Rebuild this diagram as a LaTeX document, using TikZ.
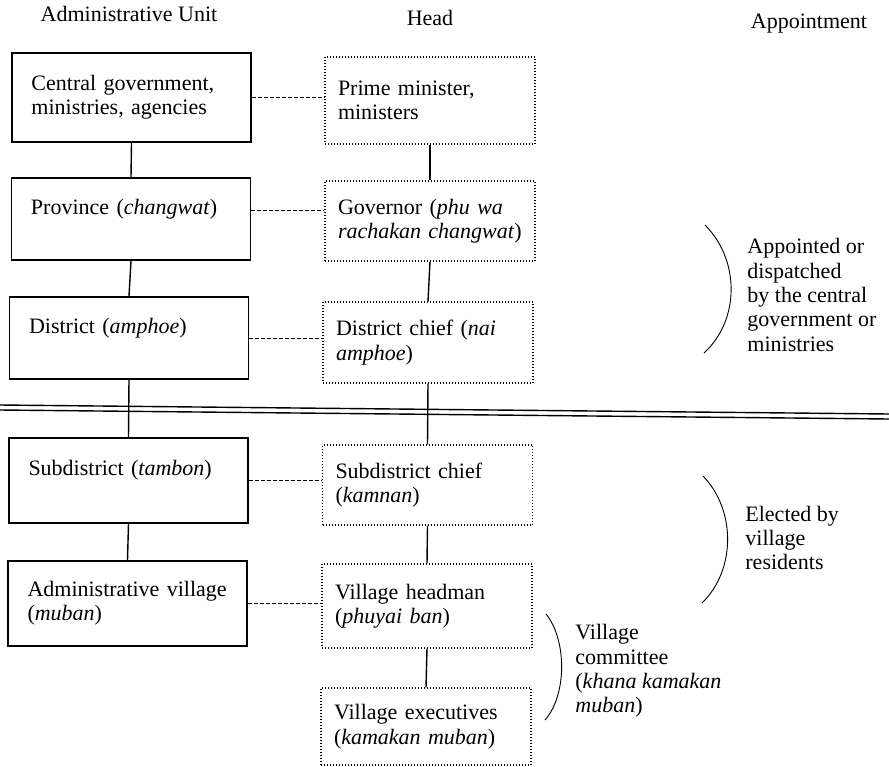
\documentclass[tikz,border=0pt]{standalone}
\usepackage{fontspec}
\setmainfont{Liberation Serif}
\usetikzlibrary{calc}
\hyphenpenalty=10000

\begin{document}
\begin{tikzpicture}[x=0.5pt, y=-0.5pt,
		font=\fontsize{11}{12.2}\selectfont,
		unitbox/.style={draw, line width=0.8pt, minimum width=119.5pt, minimum height=#1,
			inner xsep=9.75pt, text width=100pt, align=left},
		unitbox/.default=42pt,
		headbox/.style={draw, line width=0.6pt, dash pattern=on 0.5pt off 1pt, minimum width=105pt,
			minimum height=#1, inner xsep=6.5pt, text width=92pt, align=left},
		headbox/.default=40pt,
		link/.style={line width=0.7pt},
		tie/.style={line width=0.5pt, dash pattern=on 2pt off 1pt},
		brace/.style={line width=0.45pt},
		note/.style={anchor=west, align=left, inner sep=0pt}]
		%%%%% START %%%%%
		
		\useasboundingbox (0,0) rectangle (889,766);
		
		\node[anchor=base] (hdunit) at (129,21) {Administrative Unit};
		\node[anchor=base] (hdhead) at (430,25) {Head};
		\node[anchor=base] (hdappt) at (809,28) {Appointment};
		
		% administrative units
		\node[unitbox=44.5pt] (b1) at (131.5,97.5) {Central government,\\ministries, agencies};
		\node[unitbox=41pt] (b2) at (131,219) {Province (\textit{changwat})\\\mbox{}};
		\node[unitbox=41pt] (b3) at (129,338) {District (\textit{amphoe})\\\mbox{}};
		\node[unitbox=42.5pt] (b4) at (128.5,480.5) {Subdistrict (\textit{tambon})\\\mbox{}};
		\node[unitbox=42.5pt] (b5) at (127.5,603.5) {Administrative village\\(\textit{muban})};
		
		% heads
		\node[headbox=43.5pt] (h1) at (430,100.5) {Prime minister,\\ministers};
		\node[headbox=40pt] (h2) at (430,221) {Governor (\textit{phu wa}\\\textit{rachakan changwat})};
		\node[headbox=40.5pt] (h3) at (428,342.5) {District chief (\textit{nai}\\\textit{amphoe})};
		\node[headbox=40pt] (h4) at (427.5,485) {Subdistrict chief\\(\textit{kamnan})};
		\node[headbox=42pt] (h5) at (427,606) {Village headman\\(\textit{phuyai ban})};
		\node[headbox=38.5pt] (h6) at (426,726.5) {Village executives\\(\textit{kamakan muban})};
		
		\draw[link] (b1.south) -- (b2.north);
		\draw[link] (b2.south) -- (b3.north);
		\draw[link] (b3.south) -- (b4.north);
		\draw[link] (b4.south) -- (b5.north);
		
		\draw[link] (h1.south) -- (h2.north);
		\draw[link] (h2.south) -- (h3.north);
		\draw[link] (h3.south) -- (h4.north);
		\draw[link] (h4.south) -- (h5.north);
		\draw[link] (h5.south) -- (h6.north);
		
		\draw[tie] (b1.east) -- (b1.east -| h1.west);
		\draw[tie] ([yshift=4.5pt]b2.east) -- ([yshift=4.5pt]b2.east -| h2.west);
		\draw[tie] (b3.east) -- (b3.east -| h3.west);
		\draw[tie] (b4.east) -- (b4.east -| h4.west);
		\draw[tie] (b5.east) -- (b5.east -| h5.west);
		
		% appointed / elected split
		\draw[link] (0,405) -- (889,414);
		\draw[link] (0,410) -- (889,419);
		
		\draw[brace] (705,225) .. controls (740,260) and (740,320) .. (704,353);
		\draw[brace] (703,476) .. controls (736,510) and (736,570) .. (702,603);
		\draw[brace] (546,614) .. controls (567,640) and (567,695) .. (545,720);
		
		\node[note] (appointed) at (747,295) {Appointed or\\dispatched\\by the central\\government or\\ministries};
		\node[note] (elected) at (745,538) {Elected by\\village\\residents};
		\node[note] (committee) at (575,671) {Village\\committee\\(\textit{khana kamakan}\\\textit{muban})};
		
		%%%%% END %%%%%
\end{tikzpicture}
\end{document}
